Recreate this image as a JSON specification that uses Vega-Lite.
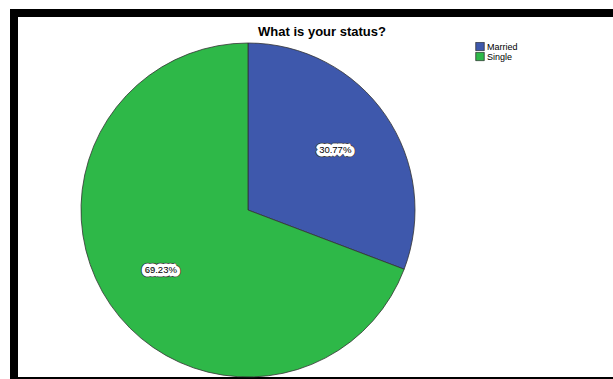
{
  "$schema": "https://vega.github.io/schema/vega-lite/v6.json",
  "width": 616,
  "height": 368,
  "autosize": "none",
  "padding": {"left": 14, "top": 13, "right": 0, "bottom": 0},
  "background": "white",
  "config": {
    "view": {"stroke": null},
    "font": "Liberation Sans"
  },
  "title": {
    "text": "What is your status?",
    "fontSize": 13,
    "fontWeight": "bold",
    "font": "Liberation Sans",
    "color": "black",
    "anchor": "middle",
    "offset": -30
  },
  "data": {
    "values": [
      {"status": "Married", "pct": 30.77, "label": "30.77%"},
      {"status": "Single", "pct": 69.23, "label": "69.23%"}
    ]
  },
  "layer": [
    {
      "mark": {"type": "rect", "fill": null, "stroke": "black", "strokeWidth": 8},
      "encoding": {}
    },
    {
      "mark": {"type": "arc", "radius": 167, "stroke": "#333333", "strokeWidth": 0.8, "xOffset": -74, "yOffset": 13},
      "encoding": {
        "theta": {"field": "pct", "type": "quantitative", "stack": true},
        "order": {"field": "status", "type": "nominal"},
        "color": {
          "field": "status",
          "type": "nominal",
          "title": null,
          "scale": {"domain": ["Married", "Single"], "range": ["#3E58AC", "#2EB848"]},
          "legend": {
            "orient": "none",
            "legendX": 461,
            "legendY": 29,
            "symbolType": "square",
            "symbolSize": 72,
            "symbolStrokeColor": "#333333",
            "symbolStrokeWidth": 0.8,
            "labelFontSize": 9,
            "labelFont": "Liberation Sans",
            "labelColor": "black",
            "labelOffset": 2,
            "rowPadding": 0,
            "clipHeight": 9
          }
        }
      }
    },
    {
      "mark": {"type": "text", "radius": 106, "fontSize": 9.5, "font": "Liberation Sans", "fill": "white", "stroke": "#333333", "strokeWidth": 8.5, "strokeJoin": "bevel", "xOffset": -74, "yOffset": 13},
      "encoding": {
        "theta": {"field": "pct", "type": "quantitative", "stack": true},
        "order": {"field": "status", "type": "nominal"},
        "text": {"field": "label", "type": "nominal"}
      }
    },
    {
      "mark": {"type": "text", "radius": 106, "fontSize": 9.5, "font": "Liberation Sans", "fill": "white", "stroke": "white", "strokeWidth": 7, "strokeJoin": "bevel", "xOffset": -74, "yOffset": 13},
      "encoding": {
        "theta": {"field": "pct", "type": "quantitative", "stack": true},
        "order": {"field": "status", "type": "nominal"},
        "text": {"field": "label", "type": "nominal"}
      }
    },
    {
      "mark": {"type": "text", "radius": 106, "fontSize": 9.5, "font": "Liberation Sans", "color": "black", "xOffset": -74, "yOffset": 13},
      "encoding": {
        "theta": {"field": "pct", "type": "quantitative", "stack": true},
        "order": {"field": "status", "type": "nominal"},
        "text": {"field": "label", "type": "nominal"}
      }
    }
  ]
}
